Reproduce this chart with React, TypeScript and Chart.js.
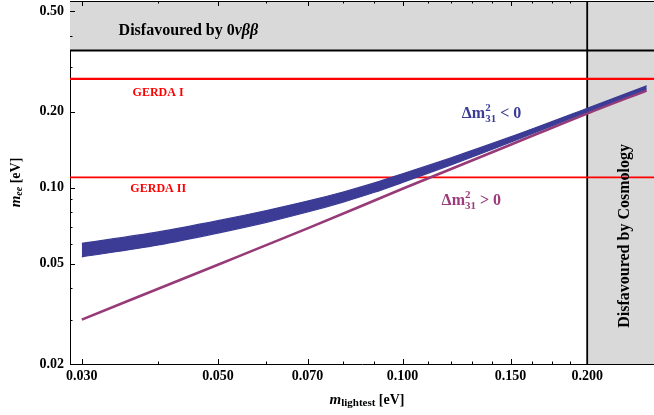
import React, { useEffect, useRef } from 'react';
import { Chart, registerables } from 'chart.js';
Chart.register(...registerables);

// ---- data ----
const xTickValues = [0.03, 0.05, 0.07, 0.1, 0.15, 0.2];
const xTickLabels = ['0.030', '0.050', '0.070', '0.100', '0.150', '0.200'];
const xMinorTicks = [0.04, 0.06, 0.08, 0.09, 0.11, 0.12, 0.13, 0.14, 0.1625, 0.175, 0.1875];
const yTickValues = [0.02, 0.05, 0.1, 0.2, 0.5];
const yTickLabels = ['0.02', '0.05', '0.10', '0.20', '0.50'];
const yMinorTicks = [0.03, 0.04, 0.06, 0.07, 0.08, 0.09, 0.3, 0.4];

// inverted hierarchy band (Δm²31 < 0)
const ihX = [0.03, 0.04, 0.05, 0.06, 0.07, 0.08, 0.09, 0.10, 0.12, 0.15, 0.20, 0.25];
const ihUpper = [0.0602, 0.0668, 0.0740, 0.0812, 0.0885, 0.0962, 0.1045, 0.1135, 0.1315, 0.1590, 0.2065, 0.2535];
const ihLower = [0.0532, 0.0593, 0.0661, 0.0729, 0.0801, 0.0877, 0.0959, 0.1050, 0.1232, 0.1515, 0.2003, 0.2464];
// normal hierarchy (Δm²31 > 0)
const nhX = [0.03, 0.05, 0.07, 0.10, 0.15, 0.20, 0.25];
const nhY = [0.0300, 0.0495, 0.0690, 0.0990, 0.1480, 0.1970, 0.2430];

// limits
const gerdaI = 0.27;
const gerdaII = 0.11;
const bbLimit = 0.35;
const cosmoLimit = 0.2;

const X_MIN = 0.0287;
const X_MAX = 0.257;
const Y_MIN = 0.02;
const Y_MAX = 0.55;

const BLUE = '#3c3c96';
const PURPLE = '#973a78';
const RED = '#ff0000';
const GRAY = '#d9d9d9';
const FONT = '"Liberation Serif", "Times New Roman", serif';

type Seg = { t?: string; sup?: string; sub?: string; font: string; dy?: number; supDy?: number; subDy?: number };

function segWidth(ctx: CanvasRenderingContext2D, s: Seg) {
  ctx.font = s.font;
  if (s.t !== undefined) return ctx.measureText(s.t).width;
  return Math.max(ctx.measureText(s.sup || '').width, ctx.measureText(s.sub || '').width);
}
function richWidth(ctx: CanvasRenderingContext2D, segs: Seg[]) {
  return segs.reduce((a, s) => a + segWidth(ctx, s), 0);
}
function drawRich(ctx: CanvasRenderingContext2D, segs: Seg[], x: number, y: number, color: string) {
  let cx = x;
  ctx.fillStyle = color;
  ctx.textAlign = 'left';
  ctx.textBaseline = 'alphabetic';
  for (const s of segs) {
    const w = segWidth(ctx, s);
    ctx.font = s.font;
    if (s.t !== undefined) {
      ctx.fillText(s.t, cx, y + (s.dy || 0));
    } else {
      if (s.sup) ctx.fillText(s.sup, cx, y + (s.supDy ?? -7));
      if (s.sub) ctx.fillText(s.sub, cx, y + (s.subDy ?? 4));
    }
    cx += w;
  }
}

const decorPlugin = {
  id: 'decor',
  beforeDatasetsDraw(chart: any) {
    const { ctx, chartArea } = chart;
    const xs = chart.scales.x;
    const ys = chart.scales.y;
    const yb = ys.getPixelForValue(bbLimit);
    const xc = xs.getPixelForValue(cosmoLimit);
    ctx.save();
    ctx.fillStyle = GRAY;
    ctx.fillRect(chartArea.left, chartArea.top, chartArea.right - chartArea.left, yb - chartArea.top);
    ctx.fillRect(xc, chartArea.top, chartArea.right - xc, chartArea.bottom - chartArea.top);
    ctx.strokeStyle = '#000';
    ctx.lineWidth = 2;
    ctx.beginPath();
    ctx.moveTo(chartArea.left, yb);
    ctx.lineTo(chartArea.right, yb);
    ctx.stroke();
    ctx.lineWidth = 1.8;
    ctx.beginPath();
    ctx.moveTo(xc, chartArea.top);
    ctx.lineTo(xc, chartArea.bottom);
    ctx.stroke();
    ctx.restore();
  },
  afterDraw(chart: any) {
    const { ctx, chartArea } = chart;
    const xs = chart.scales.x;
    const ys = chart.scales.y;
    ctx.save();
    // frame top
    ctx.strokeStyle = '#000';
    ctx.lineWidth = 1;
    ctx.beginPath();
    ctx.moveTo(chartArea.left, chartArea.top + 0.5);
    ctx.lineTo(chartArea.right, chartArea.top + 0.5);
    ctx.stroke();
    // ticks
    const tickX = (v: number, len: number) => {
      const px = Math.round(xs.getPixelForValue(v)) + 0.5;
      ctx.beginPath();
      ctx.moveTo(px, chartArea.bottom);
      ctx.lineTo(px, chartArea.bottom - len);
      ctx.moveTo(px, chartArea.top);
      ctx.lineTo(px, chartArea.top + len);
      ctx.stroke();
    };
    const tickY = (v: number, len: number) => {
      const py = Math.round(ys.getPixelForValue(v)) + 0.5;
      ctx.beginPath();
      ctx.moveTo(chartArea.left, py);
      ctx.lineTo(chartArea.left + len, py);
      ctx.stroke();
    };
    xTickValues.forEach((v) => tickX(v, 5));
    xMinorTicks.forEach((v) => tickX(v, 2.5));
    yTickValues.forEach((v) => tickY(v, 5));
    yMinorTicks.forEach((v) => tickY(v, 2.5));

    // annotations
    const P = (x: number, y: number) => [xs.getPixelForValue(x), ys.getPixelForValue(y)];
    let [ax, ay] = P(0.03444, 0.4036);
    drawRich(ctx, [
      { t: 'Disfavoured by 0', font: `bold 16px ${FONT}` },
      { t: 'νββ', font: `italic bold 16px ${FONT}` },
    ], ax, ay, '#000');

    [ax, ay] = P(0.0363, 0.2305);
    drawRich(ctx, [{ t: 'GERDA I', font: `bold 12px ${FONT}` }], ax, ay, RED);
    [ax, ay] = P(0.0360, 0.0961);
    drawRich(ctx, [{ t: 'GERDA II', font: `bold 12px ${FONT}` }], ax, ay, RED);

    const dm = (sign: string): Seg[] => [
      { t: 'Δm', font: `bold 16px ${FONT}` },
      { sup: '2', sub: '31', font: `bold 11px ${FONT}`, supDy: -7, subDy: 4 },
      { t: ` ${sign} 0`, font: `bold 16px ${FONT}` },
    ];
    [ax, ay] = P(0.1249, 0.1895);
    drawRich(ctx, dm('<'), ax, ay, BLUE);
    [ax, ay] = P(0.1158, 0.0854);
    drawRich(ctx, dm('>'), ax, ay, '#9c3c7c');

    // cosmology label
    [ax, ay] = P(0.2338, 0.0644);
    ctx.save();
    ctx.translate(ax, ay);
    ctx.rotate(-Math.PI / 2);
    const cs: Seg[] = [{ t: 'Disfavoured by Cosmology', font: `bold 16px ${FONT}` }];
    drawRich(ctx, cs, -richWidth(ctx, cs) / 2, 0, '#000');
    ctx.restore();

    // axis titles
    const xl: Seg[] = [
      { t: 'm', font: `italic bold 15px ${FONT}` },
      { t: 'lightest', font: `bold 11px ${FONT}`, dy: 2 },
      { t: ' [eV]', font: `bold 14px ${FONT}` },
    ];
    const xlc = (chartArea.left + chartArea.right) / 2 + 5;
    drawRich(ctx, xl, xlc - richWidth(ctx, xl) / 2, 404, '#000');

    const yl: Seg[] = [
      { t: 'm', font: `italic bold 15px ${FONT}` },
      { t: 'ee', font: `italic bold 10px ${FONT}`, dy: 2 },
      { t: ' [eV]', font: `bold 14px ${FONT}` },
    ];
    ctx.save();
    ctx.translate(20, (chartArea.top + chartArea.bottom) / 2);
    ctx.rotate(-Math.PI / 2);
    drawRich(ctx, yl, -richWidth(ctx, yl) / 2, 0, '#000');
    ctx.restore();

    ctx.restore();
  },
};

export default function App() {
  const ref = useRef<HTMLCanvasElement | null>(null);
  useEffect(() => {
    document.body.style.margin = '0';
    const canvas = ref.current!;
    const pts = (xs: number[], ys: number[]) => xs.map((x, i) => ({ x, y: ys[i] }));
    const chart = new Chart(canvas, {
      type: 'line',
      data: {
        datasets: [
          {
            data: pts(ihX, ihLower),
            borderColor: BLUE,
            borderWidth: 1.2,
            pointRadius: 0,
            fill: false,
            cubicInterpolationMode: 'monotone',
          },
          {
            data: pts(ihX, ihUpper),
            borderColor: BLUE,
            backgroundColor: BLUE,
            borderWidth: 1.2,
            pointRadius: 0,
            fill: '-1',
            cubicInterpolationMode: 'monotone',
          },
          {
            data: pts(nhX, nhY),
            borderColor: PURPLE,
            borderWidth: 2.6,
            pointRadius: 0,
            fill: false,
            cubicInterpolationMode: 'monotone',
          },
          {
            data: [{ x: X_MIN, y: gerdaI }, { x: X_MAX, y: gerdaI }],
            borderColor: RED,
            borderWidth: 2.3,
            pointRadius: 0,
            fill: false,
          },
          {
            data: [{ x: X_MIN, y: gerdaII }, { x: X_MAX, y: gerdaII }],
            borderColor: RED,
            borderWidth: 1.7,
            pointRadius: 0,
            fill: false,
          },
        ],
      } as any,
      plugins: [decorPlugin],
      options: {
        animation: false,
        responsive: false,
        devicePixelRatio: 1,
        layout: { padding: { top: 1, right: 0, left: 0, bottom: 0 } },
        plugins: { legend: { display: false }, tooltip: { enabled: false } },
        scales: {
          x: {
            type: 'logarithmic',
            position: 'bottom',
            min: X_MIN,
            max: X_MAX,
            afterBuildTicks: (s: any) => {
              s.ticks = xTickValues.map((v) => ({ value: v }));
            },
            afterFit: (s: any) => {
              s.height = 51;
              s.paddingLeft = 0;
              s.paddingRight = 0;
            },
            grid: { display: false, drawTicks: false },
            border: { display: true, color: '#000', width: 1 },
            ticks: {
              autoSkip: false,
              maxRotation: 0,
              padding: 4,
              color: '#000',
              font: { family: FONT, size: 14, weight: 'bold' },
              callback: (v: any) => {
                const i = xTickValues.findIndex((t) => Math.abs(t - v) < 1e-9);
                return i >= 0 ? xTickLabels[i] : '';
              },
            },
          },
          y: {
            type: 'logarithmic',
            position: 'left',
            min: Y_MIN,
            max: Y_MAX,
            afterBuildTicks: (s: any) => {
              s.ticks = yTickValues.map((v) => ({ value: v }));
            },
            afterFit: (s: any) => {
              s.width = 70;
              s.paddingTop = 0;
              s.paddingBottom = 0;
            },
            grid: { display: false, drawTicks: false },
            border: { display: true, color: '#000', width: 1 },
            ticks: {
              autoSkip: false,
              padding: 6,
              color: '#000',
              font: { family: FONT, size: 14, weight: 'bold' },
              callback: (v: any) => {
                const i = yTickValues.findIndex((t) => Math.abs(t - v) < 1e-9);
                return i >= 0 ? yTickLabels[i] : '';
              },
            },
          },
        },
      } as any,
    });
    return () => chart.destroy();
  }, []);
  return (
    <div style={{ width: 654, height: 415, background: '#fff' }}>
      <canvas ref={ref} width={654} height={415} style={{ display: 'block' }} />
    </div>
  );
}
